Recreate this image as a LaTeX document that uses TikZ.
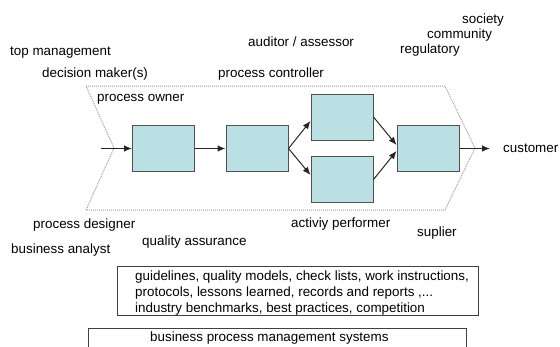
\documentclass[tikz,border=0pt]{standalone}
\usepackage{fontspec}
\setmainfont{Liberation Sans}
\usetikzlibrary{arrows.meta}
\definecolor{boxfill}{RGB}{187,224,227}
\definecolor{boxline}{RGB}{80,80,80}
\definecolor{chev}{RGB}{160,160,160}
\tikzset{
  lbl/.style={anchor=base west, inner sep=0pt, font=\fontsize{13.4}{16}\selectfont},
  pbox/.style={draw=boxline, fill=boxfill, line width=1pt, minimum width=62pt, minimum height=46pt, inner sep=0pt},
  conn/.style={line width=1pt, draw=black!85, -{Latex[length=8pt,width=6.5pt]}},
  chevline/.style={draw=chev, line width=1pt, dash pattern=on 1pt off 1pt},
  infobox/.style={draw=black!75, line width=1pt}
}
\begin{document}
\begin{tikzpicture}[x=1pt,y=-1pt]
\useasboundingbox (0,0) rectangle (560,346);
\clip (0,0) rectangle (560,346);
% chevron outline
\draw[chevline] (86,86) -- (445,86) -- (475,148) -- (445,210) -- (86,210) -- (114,148) -- cycle;
% process boxes
\node[pbox] (b1) at (163.5,148.5) {};
\node[pbox] (b2) at (257,148.5) {};
\node[pbox] (b3) at (342,117) {};
\node[pbox] (b4) at (342,179.5) {};
\node[pbox] (b5) at (428,148.5) {};
% connectors
\coordinate (in) at (101,148.5);
\coordinate (out) at (490,148.5);
\draw[conn] (in) -- (b1.west);
\draw[conn] (b1.east) -- (b2.west);
\draw[conn] (b2.east) -- ([yshift=-4pt]b3.west);
\draw[conn] (b2.east) -- ([yshift=4.5pt]b4.west);
\draw[conn] (b3.east) -- ([yshift=3.5pt]b5.west);
\draw[conn] (b4.east) -- ([yshift=-2.5pt]b5.west);
\draw[conn] (b5.east) -- (out);
% labels
\node[lbl] (tm) at (10,55) {top management};
\node[lbl] (dm) at (42,77) {decision maker(s)};
\node[lbl] (po) at (97,101) {process owner};
\node[lbl] (aa) at (248,46) {auditor / assessor};
\node[lbl] (pc) at (218,77) {process controller};
\node[lbl] (so) at (462,23) {society};
\node[lbl] (co) at (427,38) {community};
\node[lbl] (re) at (400,53) {regulatory};
\node[lbl] (cu) at (503,152) {customer};
\node[lbl] (pd) at (33,228) {process designer};
\node[lbl] (ba) at (11,253) {business analyst};
\node[lbl] (qa) at (142,245) {quality assurance};
\node[lbl] (ap) at (291,227) {activiy performer};
\node[lbl] (su) at (417,236) {suplier};
% info boxes
\node[infobox, anchor=north west, minimum width=361pt, minimum height=49pt, inner sep=0pt] (guide) at (117,266) {};
\node[lbl] (g1) at (135,280) {guidelines, quality models, check lists, work instructions,};
\node[lbl] (g2) at (135,296) {protocols, lessons learned, records and reports ,...};
\node[lbl] (g3) at (135,312) {industry benchmarks, best practices, competition};
\node[infobox, anchor=north west, minimum width=378pt, minimum height=40pt, inner sep=0pt] (bpms) at (88,328) {};
\node[lbl] (bp) at (150,341) {business process management systems};
\end{tikzpicture}
\end{document}
